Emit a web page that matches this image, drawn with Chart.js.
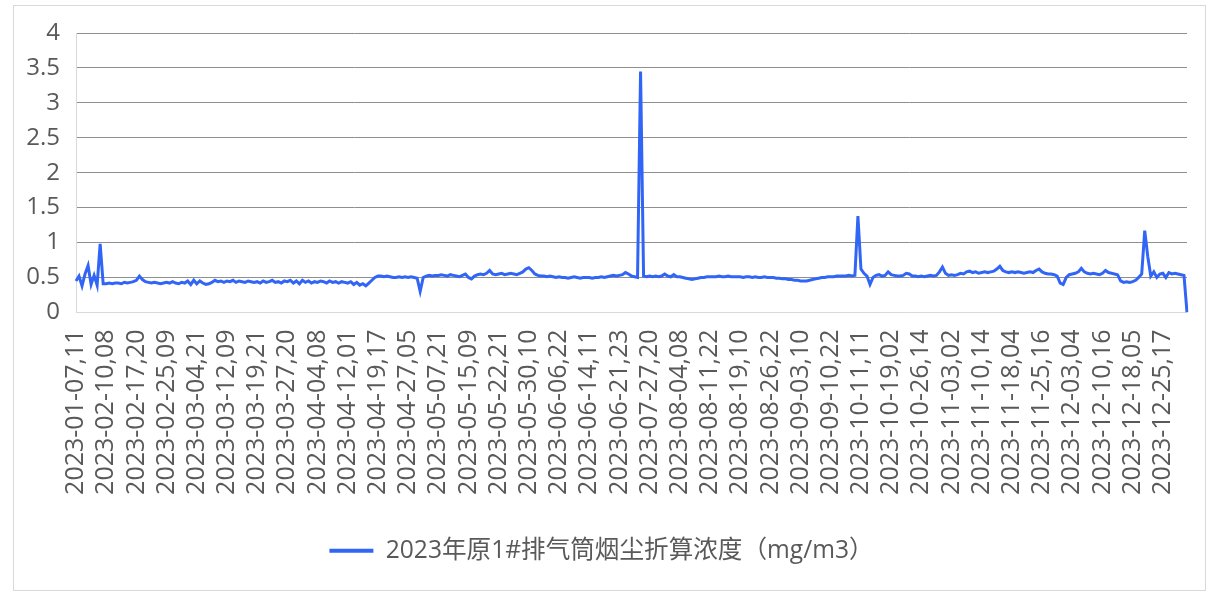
<!DOCTYPE html>
<html>
<head>
<meta charset="utf-8">
<script src="https://cdn.jsdelivr.net/npm/chart.js@4/dist/chart.umd.min.js"></script>
<style>
  html, body { margin: 0; padding: 0; background: #ffffff; }
  #wrap { position: relative; width: 1215px; height: 593px; }
  #frame { position: absolute; left: 13px; top: 5px; width: 1191px; height: 584px; border: 1px solid #d9d9d9; pointer-events: none; }
  canvas { position: absolute; left: 0; top: 0; }
</style>
</head>
<body>
<div id="wrap">
  <canvas id="c" width="1215" height="593"></canvas>
  <div id="frame"></div>
</div>
<script>
// Tick labels shown on the category axis (one every 10 samples)
const tickLabels = [
  "2023-01-07,11","2023-02-10,08","2023-02-17,20","2023-02-25,09","2023-03-04,21",
  "2023-03-12,09","2023-03-19,21","2023-03-27,20","2023-04-04,08","2023-04-12,01",
  "2023-04-19,17","2023-04-27,05","2023-05-07,21","2023-05-15,09","2023-05-22,21",
  "2023-05-30,10","2023-06-06,22","2023-06-14,11","2023-06-21,23","2023-07-27,20",
  "2023-08-04,08","2023-08-11,22","2023-08-19,10","2023-08-26,22","2023-09-03,10",
  "2023-09-10,22","2023-10-11,11","2023-10-19,02","2023-10-26,14","2023-11-03,02",
  "2023-11-10,14","2023-11-18,04","2023-11-25,16","2023-12-03,04","2023-12-10,16",
  "2023-12-18,05","2023-12-25,17"
];
const samplesPerTick = 10;

const seriesName = "2023年原1#排气筒烟尘折算浓度（mg/m3）";

// Dust concentration values (mg/m3)
const dustValues = [
  0.45,0.52,0.38,0.55,0.67,0.40,0.53,0.39,0.98,0.41,
  0.41,0.42,0.41,0.42,0.42,0.41,0.43,0.42,0.43,0.44,
  0.46,0.52,0.47,0.44,0.43,0.42,0.43,0.42,0.41,0.42,
  0.43,0.42,0.44,0.42,0.41,0.43,0.42,0.45,0.40,0.46,
  0.41,0.45,0.42,0.40,0.41,0.43,0.46,0.44,0.45,0.43,
  0.45,0.44,0.46,0.43,0.45,0.44,0.43,0.45,0.44,0.43,
  0.44,0.42,0.45,0.43,0.44,0.46,0.43,0.44,0.42,0.45,
  0.44,0.46,0.42,0.45,0.41,0.46,0.43,0.45,0.42,0.44,
  0.43,0.45,0.44,0.42,0.45,0.43,0.44,0.42,0.44,0.43,
  0.42,0.44,0.40,0.43,0.39,0.41,0.38,0.42,0.46,0.50,
  0.52,0.52,0.51,0.52,0.51,0.50,0.50,0.51,0.50,0.51,
  0.50,0.51,0.50,0.49,0.30,0.50,0.52,0.53,0.52,0.53,
  0.53,0.54,0.53,0.52,0.54,0.53,0.52,0.51,0.53,0.55,
  0.50,0.48,0.52,0.54,0.55,0.54,0.56,0.60,0.55,0.54,
  0.55,0.56,0.54,0.55,0.56,0.55,0.54,0.56,0.58,0.62,
  0.64,0.60,0.55,0.53,0.52,0.52,0.51,0.52,0.51,0.50,
  0.51,0.50,0.50,0.49,0.50,0.51,0.50,0.49,0.50,0.50,
  0.50,0.49,0.50,0.50,0.51,0.50,0.51,0.52,0.53,0.52,
  0.53,0.54,0.57,0.55,0.52,0.51,0.50,3.45,0.52,0.51,
  0.52,0.51,0.52,0.51,0.52,0.55,0.52,0.51,0.54,0.51,
  0.51,0.50,0.49,0.48,0.47,0.48,0.49,0.50,0.50,0.51,
  0.51,0.51,0.51,0.52,0.51,0.51,0.52,0.51,0.51,0.51,
  0.51,0.50,0.51,0.51,0.50,0.51,0.50,0.50,0.51,0.50,
  0.50,0.50,0.49,0.49,0.48,0.48,0.47,0.47,0.46,0.46,
  0.45,0.45,0.45,0.46,0.47,0.48,0.49,0.50,0.50,0.51,
  0.51,0.51,0.52,0.52,0.52,0.52,0.53,0.52,0.53,1.38,
  0.62,0.56,0.52,0.40,0.50,0.53,0.54,0.52,0.53,0.58,
  0.54,0.53,0.52,0.52,0.53,0.56,0.55,0.52,0.52,0.51,
  0.52,0.51,0.52,0.53,0.52,0.53,0.58,0.65,0.56,0.53,
  0.54,0.53,0.54,0.56,0.55,0.58,0.59,0.57,0.58,0.56,
  0.57,0.58,0.57,0.58,0.59,0.62,0.66,0.60,0.58,0.57,
  0.58,0.57,0.58,0.57,0.56,0.57,0.58,0.57,0.60,0.62,
  0.58,0.56,0.55,0.55,0.54,0.52,0.42,0.40,0.50,0.54,
  0.55,0.56,0.58,0.63,0.58,0.56,0.55,0.56,0.55,0.54,
  0.56,0.60,0.57,0.56,0.55,0.54,0.45,0.43,0.44,0.43,
  0.44,0.46,0.50,0.55,1.17,0.80,0.52,0.58,0.50,0.55,
  0.56,0.50,0.57,0.55,0.56,0.55,0.54,0.53,0.00
];

const yTicks = { min: 0, max: 4, step: 0.5 };

const lineColor = '#3165f5';
const textColor = '#595959';

const categories = dustValues.map((_, i) =>
  i % samplesPerTick === 0 ? (tickLabels[i / samplesPerTick] || '') : '');

new Chart(document.getElementById('c'), {
  type: 'line',
  data: {
    labels: categories,
    datasets: [{
      label: seriesName,
      data: dustValues,
      borderColor: lineColor,
      backgroundColor: lineColor,
      borderWidth: 3,
      pointRadius: 0,
      tension: 0,
      fill: false
    }]
  },
  options: {
    responsive: false,
    devicePixelRatio: 1,
    animation: false,
    layout: { padding: { left: 16, right: 28, top: 33, bottom: 20 } },
    plugins: {
      tooltip: { enabled: false },
      legend: {
        position: 'bottom',
        labels: {
          color: textColor,
          font: { family: '"Open Sans", "Noto Sans CJK SC", sans-serif', size: 24.6 },
          boxWidth: 44,
          boxHeight: 4,
          padding: 10,
          generateLabels: (chart) => chart.data.datasets.map((ds, i) => ({
            text: ds.label,
            fillStyle: ds.borderColor,
            strokeStyle: ds.borderColor,
            lineWidth: 0,
            fontColor: textColor,
            hidden: false,
            datasetIndex: i
          }))
        }
      }
    },
    scales: {
      x: {
        type: 'category',
        offset: false,
        grid: { display: false, drawTicks: false },
        border: { display: false },
        ticks: {
          autoSkip: false,
          minRotation: 90,
          maxRotation: 90,
          padding: 17,
          color: textColor,
          font: { family: '"Open Sans", sans-serif', size: 25 }
        },
        afterFit: (s) => { s.height = 216; s.paddingLeft = 0; s.paddingRight = 0; }
      },
      y: {
        min: yTicks.min,
        max: yTicks.max,
        grid: {
          drawTicks: false,
          color: (ctx) => (ctx.tick && ctx.tick.value === 0) ? '#d9d9d9' : '#8f8f8f',
          lineWidth: 1
        },
        border: { display: true, color: '#d9d9d9', width: 1 },
        ticks: {
          stepSize: yTicks.step,
          padding: 16,
          color: textColor,
          font: { family: '"Open Sans", sans-serif', size: 24 },
          callback: (v) => String(v)
        },
        afterFit: (s) => { s.width = 60; }
      }
    }
  }
});
</script>
</body>
</html>
